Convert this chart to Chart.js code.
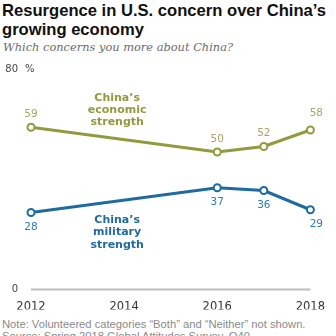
<!DOCTYPE html>
<html>
<head>
<meta charset="utf-8">
<script src="https://cdn.jsdelivr.net/npm/chart.js@4"></script>
<style>
  html, body { margin: 0; padding: 0; background: #fff; }
  #wrap { position: relative; width: 336px; height: 336px; overflow: hidden; }
  #grafico { position: absolute; left: 0; top: 0; }
  .titulo { position: absolute; left: 2px; top: 1px; width: 340px; font: bold 16.6px "Liberation Sans", Arial, sans-serif; line-height: 19px; color: #111; white-space: nowrap; }
  .subtitulo { position: absolute; left: 3px; top: 40px; font: italic 11.4px "DejaVu Serif", serif; color: #6b6b6b; }
  .nota { position: absolute; left: 2px; top: 318px; font: 11.2px "Liberation Sans", Arial, sans-serif; line-height: 12px; color: #8a8a8a; white-space: nowrap; }
</style>
</head>
<body>
<div id="wrap">
  <div class="titulo">Resurgence in U.S. concern over China’s<br>growing economy</div>
  <div class="subtitulo">Which concerns you more about China?</div>
  <div class="nota">Note: Volunteered categories “Both” and “Neither” not shown.<br>Source: Spring 2018 Global Attitudes Survey. Q40.</div>
  <canvas id="grafico" width="336" height="336"></canvas>
</div>
<script>
// Años encuestados y porcentajes de cada respuesta
let anios = [2012, 2016, 2017, 2018];
let economica = [59, 50, 52, 58];
let militar = [28, 37, 36, 29];
let ticksX = [2012, 2014, 2016, 2018];
let ticksY = [0, 80];

let colorEconomica = '#8f9b3c';
let colorMilitar = '#1f6b9f';

// Dibuja el valor junto a cada punto y los nombres de las series
let etiquetas = {
  id: 'etiquetas',
  afterDatasetsDraw(chart) {
    let ctx = chart.ctx;
    let x = chart.scales.x;
    let y = chart.scales.y;
    ctx.save();
    ctx.textAlign = 'center';
    ctx.textBaseline = 'middle';
    ctx.font = '10.5px "DejaVu Sans", sans-serif';
    chart.data.datasets.forEach((ds, i) => {
      if (!ds.colorTexto) return;
      let meta = chart.getDatasetMeta(i);
      ctx.fillStyle = ds.colorTexto;
      meta.data.forEach((p, j) => {
        let ultimo = j === meta.data.length - 1;
        let dy = i === 0 ? (ultimo ? -17 : -13) : 15;
        let dx = ultimo ? 6 : 0;
        ctx.fillText(String(ds.data[j].y), p.x + dx, p.y + dy);
      });
    });

    // Nombres de las series
    ctx.font = 'bold 11px "DejaVu Sans", sans-serif';
    let cx = x.getPixelForValue(2013.85);
    ctx.fillStyle = colorEconomica;
    ['China’s', 'economic', 'strength'].forEach((t, k) => ctx.fillText(t, cx, y.getPixelForValue(69.7) + k * 12));
    ctx.fillStyle = colorMilitar;
    ['China’s', 'military', 'strength'].forEach((t, k) => ctx.fillText(t, cx, y.getPixelForValue(25.3) + k * 12.5));

    // Unidad junto a la marca superior del eje
    ctx.font = '10px "DejaVu Sans", sans-serif';
    ctx.fillStyle = '#444';
    ctx.textAlign = 'left';
    ctx.fillText('%', 25, y.getPixelForValue(80));
    ctx.restore();
  }
};

let diagrama = new Chart(document.getElementById('grafico').getContext('2d'), {
  type: 'line',
  data: {
    datasets: [{
      label: 'China’s economic strength',
      data: anios.map((a, i) => ({ x: a, y: economica[i] })),
      borderColor: colorEconomica,
      colorTexto: '#a3a866',
      backgroundColor: '#fff',
      pointBorderColor: colorEconomica,
      order: 0
    }, {
      label: 'China’s military strength',
      data: anios.map((a, i) => ({ x: a, y: militar[i] })),
      borderColor: colorMilitar,
      colorTexto: '#2f7bb2',
      backgroundColor: '#fff',
      pointBorderColor: colorMilitar,
      order: 0
    }, {
      // línea base del cero, de extremo a extremo del eje x
      label: 'base',
      data: [{ x: ticksX[0], y: ticksY[0] }, { x: ticksX[ticksX.length - 1], y: ticksY[0] }],
      borderColor: '#bdbdbd',
      borderWidth: 2,
      pointRadius: 0,
      order: 1
    }]
  },
  options: {
    responsive: false,
    animation: false,
    clip: false,
    layout: { padding: { left: 0, right: 25, top: 69.5, bottom: 26.5 } },
    elements: {
      line: { borderWidth: 3, tension: 0 },
      point: { radius: 3.5, borderWidth: 2, backgroundColor: '#fff' }
    },
    plugins: { legend: { display: false }, tooltip: { enabled: false } },
    scales: {
      x: {
        type: 'linear',
        min: 2012,
        max: 2018,
        afterBuildTicks: s => { s.ticks = ticksX.map(v => ({ value: v })); },
        afterFit: s => { s.height = 20; },
        grid: { display: false, drawTicks: false },
        border: { display: false },
        ticks: {
          padding: 11,
          color: '#333',
          font: { family: 'DejaVu Sans', size: 11.5 },
          callback: v => String(v)
        }
      },
      y: {
        min: 0,
        max: 80,
        afterBuildTicks: s => { s.ticks = ticksY.map(v => ({ value: v })); },
        afterFit: s => { s.width = 31; },
        grid: { display: false, drawTicks: false },
        border: { display: false },
        ticks: {
          padding: 13,
          color: '#444',
          font: { family: 'DejaVu Sans', size: 10 },
          callback: v => String(v)
        }
      }
    }
  },
  plugins: [etiquetas]
});
</script>
</body>
</html>
